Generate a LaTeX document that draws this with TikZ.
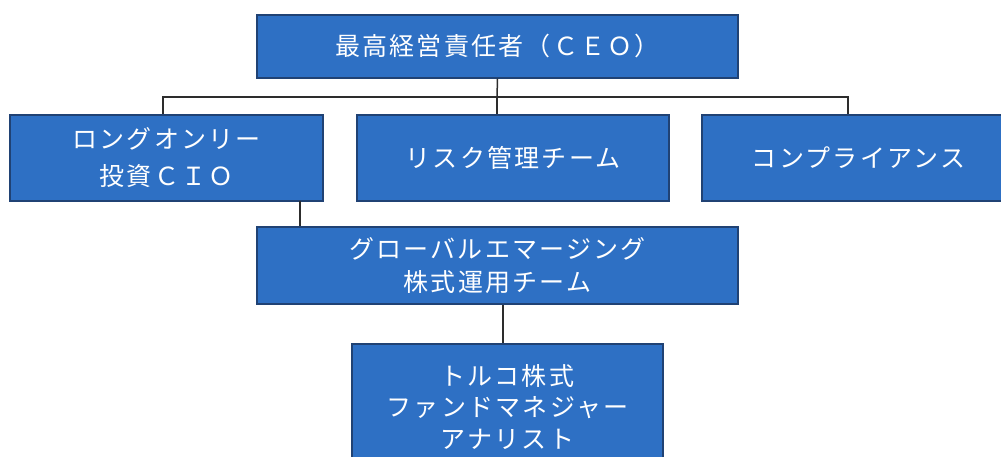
\documentclass[tikz,border=0pt]{standalone}
\usepackage{fontspec}
\newfontfamily\jp[LetterSpace=9]{Noto Sans CJK JP}
\definecolor{boxblue}{RGB}{46,112,196}
\definecolor{boxedge}{RGB}{32,66,116}
\definecolor{linegray}{RGB}{45,45,45}
\begin{document}
\begin{tikzpicture}[x=1pt, y=-1pt,
    every node/.style={rectangle, draw=boxedge, line width=1.2pt, fill=boxblue,
      text=white, align=center, inner sep=0pt,
      font=\jp\fontsize{25}{30}\selectfont},
    link/.style={draw=linegray, line width=1.5pt}]

            \clip (0,0) rectangle (1001,457);
            \fill[white] (0,0) rectangle (1001,457);

            % Boxes
            \node[minimum width=481, minimum height=63] (ceo) at (497.5,46.5) {最高経営責任者（ＣＥＯ）};
            \node[minimum width=313, minimum height=86] (cio) at (166.5,158) {ロングオンリー\\[7pt]投資ＣＩＯ};
            \node[minimum width=312, minimum height=86] (risk) at (513,158) {リスク管理チーム};
            \node[minimum width=313, minimum height=86] (comp) at (858.5,158) {コンプライアンス};
            \node[minimum width=481, minimum height=77] (gem) at (497.5,265.5) {グローバルエマージング\\[3pt]株式運用チーム};
            \node[minimum width=311, minimum height=126] (fm) at (507.5,407) {トルコ株式\\[1.5pt]ファンドマネジャー\\[1.5pt]アナリスト};

            % Connectors
            \coordinate (bar) at (497,97);
            \coordinate (c1) at (300,201);
            \draw[link] (ceo.south) -- (bar);
            \draw[link] (bar) -| ([xshift=-3.5]cio.north);
            \draw[link] (bar) -| ([xshift=-10.5]comp.north);
            \draw[link] (bar) -- (bar |- risk.north);
            \draw[link] (c1) -- (c1 |- gem.north);
            \draw[link] ([xshift=5.5]gem.south) -- ([xshift=5.5]gem.south |- fm.north);
          \end{tikzpicture}
\end{document}
